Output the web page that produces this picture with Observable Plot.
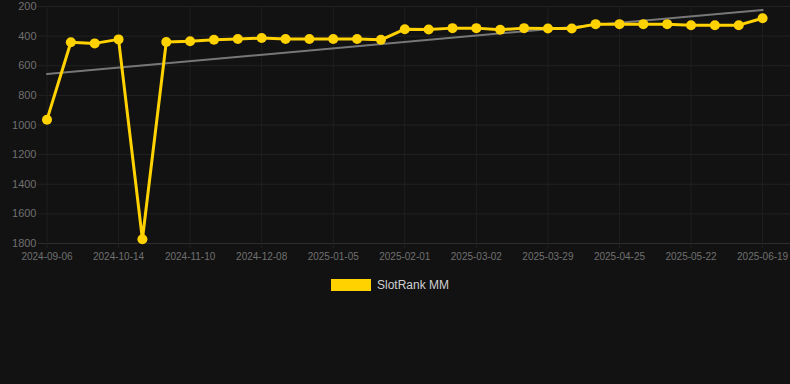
<!DOCTYPE html>
<html>
<head>
<meta charset="utf-8">
<script src="https://cdn.jsdelivr.net/npm/d3@7"></script>
<script src="https://cdn.jsdelivr.net/npm/@observablehq/plot@0.6"></script>
<style>
  html, body { margin: 0; padding: 0; background: #121212; }
  body { width: 790px; height: 384px; overflow: hidden; font-family: "Liberation Sans", Arial, sans-serif; }
  #legend { display: flex; align-items: center; justify-content: center; margin-top: 8px; margin-left: -10px; }
  #legend .sw { width: 40px; height: 12px; background: #ffd200; margin-right: 6px; }
  #legend .lb { color: #d0d0d0; font-size: 12px; }
</style>
</head>
<body>
<div id="chart"></div>
<div id="legend"><div class="sw"></div><div class="lb">SlotRank MM</div></div>
<script>
const seriesName = "SlotRank MM";
const dates = [
  "2024-09-06", "2024-09-19", "2024-10-01", "2024-10-14", "2024-10-23", "2024-11-01",
  "2024-11-10", "2024-11-19", "2024-11-29", "2024-12-08", "2024-12-17", "2024-12-27",
  "2025-01-05", "2025-01-14", "2025-01-23", "2025-02-01", "2025-02-11", "2025-02-20",
  "2025-03-02", "2025-03-11", "2025-03-20", "2025-03-29", "2025-04-07", "2025-04-16",
  "2025-04-25", "2025-05-04", "2025-05-13", "2025-05-22", "2025-05-31", "2025-06-10",
  "2025-06-19"
];
const ranks = [
  964, 441, 449, 422, 1771, 440, 434, 425, 420, 413, 420, 420, 420, 420, 425,
  353, 355, 346, 346, 357, 346, 348, 348, 319, 319, 319, 319, 326, 326, 326, 279
];
const yTicks = [200, 400, 600, 800, 1000, 1200, 1400, 1600, 1800];
const xTickIdx = [0, 3, 6, 9, 12, 15, 18, 21, 24, 27, 30];

const data = ranks.map((v, i) => ({i, date: dates[i], rank: v}));

const gold = "#ffd200";
const chart = Plot.plot({
  width: 790,
  height: 270,
  marginLeft: 38,
  marginRight: 0,
  marginTop: 6,
  marginBottom: 27,
  style: {background: "#121212", color: "#707070", fontFamily: "'Liberation Sans', Arial, sans-serif"},
  x: {type: "linear", domain: [-0.356, 31.17]},
  y: {domain: [200, 1800], reverse: true},
  marks: [
    Plot.gridY(yTicks, {stroke: "#222", strokeOpacity: 1, strokeWidth: 1}),
    Plot.gridX(xTickIdx, {stroke: "#1f1f1f", strokeOpacity: 1, strokeWidth: 1}),
    Plot.ruleY([1800], {stroke: "#2e2e2e", strokeWidth: 1}),
    Plot.axisY(yTicks, {tickSize: 0, tickPadding: 2, fontSize: 11, fill: "#707070",
      tickFormat: d => String(d), label: null}),
    Plot.axisX(xTickIdx, {tickSize: 5, tickPadding: 4, fontSize: 10, fill: "#707070", stroke: "#222",
      tickFormat: i => dates[i], label: null}),
    Plot.linearRegressionY(data, {x: "i", y: "rank", ci: 0, stroke: "#777", strokeWidth: 2}),
    Plot.line(data, {x: "i", y: "rank", stroke: gold, strokeWidth: 3}),
    Plot.dot(data, {x: "i", y: "rank", r: 5, fill: gold, stroke: "none"})
  ]
});
document.getElementById("chart").appendChild(chart);
</script>
</body>
</html>
